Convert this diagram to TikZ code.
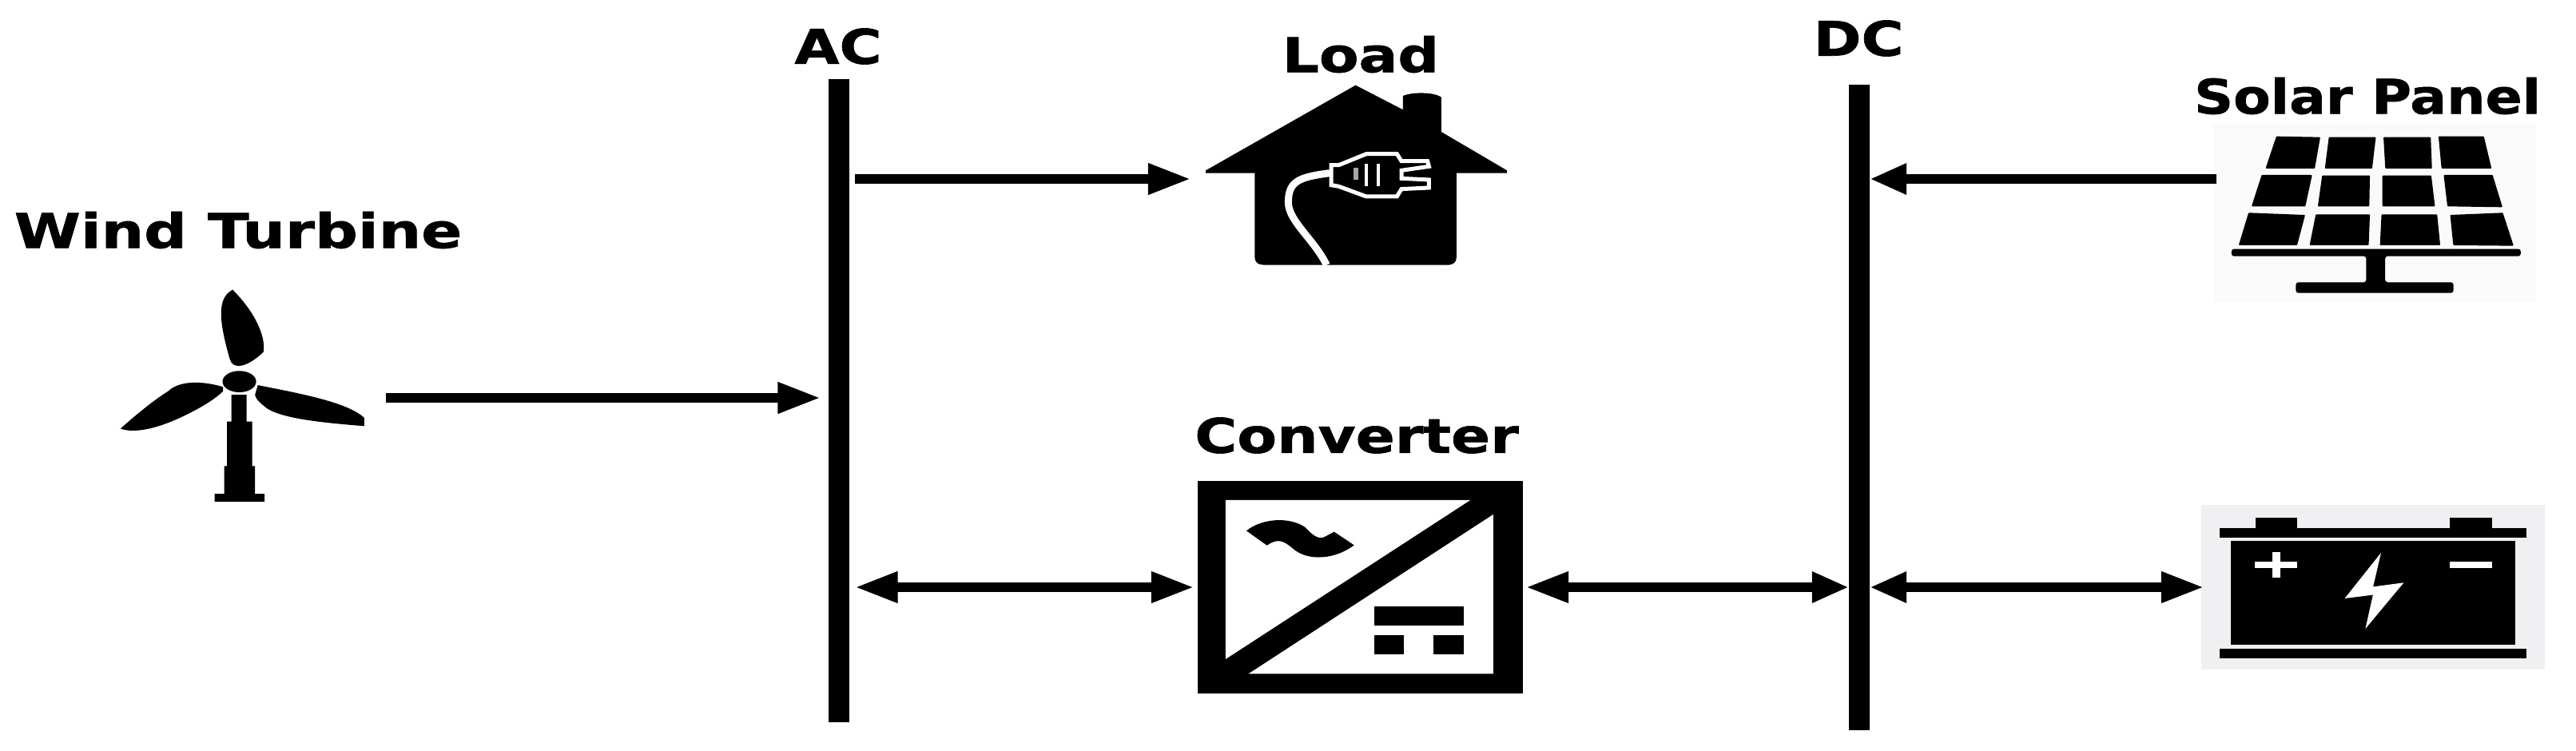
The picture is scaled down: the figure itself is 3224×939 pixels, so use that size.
\documentclass[tikz,border=0pt]{standalone}
\usepackage{fontspec}
\setmainfont{DejaVu Sans}[BoldFeatures={FakeBold=1}]
\usetikzlibrary{
    arrows.meta
}
\tikzset{
    bus/.style={fill=black,inner sep=0pt,outer sep=0pt,minimum width=0.26cm},
    iconbox/.style={inner sep=0pt,outer sep=0pt},
    title/.style={font=\bfseries\fontsize{17}{20}\selectfont,inner sep=0pt,xscale=1.21},
    longtip/.tip={Triangle[length=0.54cm,width=0.36cm]},
    shorttip/.tip={Triangle[length=0.46cm,width=0.36cm]},
    wire/.style={line width=0.125cm}
}
\begin{document}
\begin{tikzpicture}[x=0.01cm,y=-0.01cm]
\useasboundingbox (0,0) rectangle (3224,939);

% Bus bars
\node[bus,minimum height=8.05cm] (acbus) at (1049.5,501.5) {};
\node[bus,minimum height=8.08cm] (dcbus) at (2327,510) {};
\node[title] (aclabel) at (1049,58) {AC};
\node[title] (dclabel) at (2326,48) {DC};

% Boxes for the icons
\node[iconbox,minimum width=3.66cm,minimum height=3cm] (wind) at (300,498) {};
\node[iconbox,minimum width=4.42cm,minimum height=2.3cm] (load) at (1712,224) {};
\node[iconbox,fill=black,minimum width=4.07cm,minimum height=2.66cm] (conv) at (1702.5,735) {};
\node[iconbox,fill=black!2,minimum width=4.04cm,minimum height=2.22cm] (solar) at (2972,267) {};
\node[iconbox,fill=blue!20!black!6,minimum width=4.3cm,minimum height=2.05cm] (batt) at (2970,735) {};

% Labels
\node[title,xscale=1.04] (windlabel) at (298,288) {Wind Turbine};
\node[title] (loadlabel) at (1703,68) {Load};
\node[title] (convlabel) at (1698,545) {Converter};
\node[title,xscale=0.94] (solarlabel) at (2963,120) {Solar Panel};

% Wind turbine
\begin{scope}[shift={(0,240)},xscale=0.7015,yscale=0.4458]
\fill (427,533) circle (30);
\fill (415,275) .. controls (385,300) and (392,370) .. (410,470) .. controls (415,500) and (440,495) .. (470,450) .. controls (475,400) and (450,330) .. (415,275) -- cycle;
\fill (398,548) .. controls (360,530) and (320,530) .. (300,560) .. controls (270,590) and (240,630) .. (215,665) .. controls (240,680) and (285,665) .. (340,620) .. controls (365,600) and (385,580) .. (398,560) -- cycle;
\fill (460,543) .. controls (530,565) and (620,590) .. (650,635) -- (650,658) .. controls (590,650) and (510,640) .. (478,610) .. controls (465,595) and (455,580) .. (455,570) -- cycle;
\fill (413,570) -- (440,570) -- (440,645) -- (450,645) -- (450,770) -- (455,770) -- (455,848) -- (472,848) -- (472,870) -- (383,870) -- (383,848) -- (400,848) -- (400,770) -- (405,770) -- (405,645) -- (413,645) -- cycle;
\end{scope}

% House with plug
\begin{scope}[shift={(1400,0)},xscale=0.3827,yscale=0.3333]
\fill (285,640) -- (775,320) -- (930,412) -- (930,360) .. controls (960,345) and (1030,345) .. (1055,365) -- (1055,495) -- (1270,640) -- (1270,650) -- (1105,650) -- (1105,965) .. controls (1105,985) and (1095,995) .. (1075,995) -- (480,995) .. controls (455,995) and (445,985) .. (445,965) -- (445,650) -- (285,650) -- cycle;
\draw[white,line width=0.09cm] (690,650) .. controls (590,665) and (555,680) .. (555,760) .. controls (555,830) and (640,900) .. (680,995);
\draw[white,fill=black,line width=0.05cm] (695,620) -- (720,620) -- (810,578) -- (910,578) -- (925,605) -- (1010,605) -- (1015,625) -- (925,640) -- (925,670) -- (1015,675) -- (1015,705) -- (925,710) -- (910,738) -- (810,738) -- (720,700) -- (695,695) -- cycle;
\fill[black!35] (768,630) rectangle (785,675);
\draw[white,line width=0.04cm] (810,615) -- (810,700);
\draw[white,line width=0.04cm] (850,615) -- (850,700);
\end{scope}

% Converter
\begin{scope}[shift={(1400,500)},xscale=0.3827,yscale=0.3333]
\fill[white] (350,378) -- (1150,378) -- (350,975) -- cycle;
\fill[white] (1225,432) -- (1225,1030) -- (425,1030) -- cycle;
\fill (418,493) .. controls (470,445) and (560,440) .. (610,480) .. controls (630,505) and (650,525) .. (670,518) -- (705,497) -- (770,547) .. controls (710,600) and (620,610) .. (570,560) .. controls (540,530) and (520,520) .. (485,548) -- cycle;
\fill (836,776) rectangle (1128,848);
\fill (836,885) rectangle (932,958);
\fill (1030,885) rectangle (1128,958);
\end{scope}

% Solar panel
\begin{scope}[shift={(2650,60)},xscale=0.3663,yscale=0.3333]
\foreach \a/\b/\c/\d in {
  {545,335}/{690,338}/{672,450}/{510,450},
  {725,338}/{880,338}/{868,450}/{712,450},
  {912,338}/{1068,338}/{1072,450}/{918,450},
  {1100,335}/{1250,335}/{1275,450}/{1110,450},
  {495,480}/{662,480}/{640,592}/{462,592},
  {702,482}/{860,482}/{858,592}/{688,592},
  {908,482}/{1070,482}/{1082,592}/{908,592},
  {1118,480}/{1280,480}/{1312,595}/{1130,592},
  {450,622}/{638,630}/{612,738}/{418,738},
  {680,628}/{860,628}/{856,738}/{660,738},
  {905,628}/{1090,628}/{1100,738}/{900,738},
  {1140,630}/{1315,622}/{1350,740}/{1150,738}}
{
\filldraw[line width=0.02cm,line join=round] (\a) -- (\b) -- (\c) -- (\d) -- cycle;
}
\fill[rounded corners=0.03cm] (390,755) -- (1378,755) -- (1378,782) -- (915,782) -- (915,880) -- (1148,880) -- (1148,920) -- (610,920) -- (610,880) -- (850,880) -- (850,782) -- (390,782) -- cycle;
\end{scope}

% Battery
\begin{scope}[shift={(2650,600)},xscale=0.3663,yscale=0.3333]
\fill (350,182) rectangle (1398,218);
\fill (472,145) rectangle (615,182);
\fill (1135,145) rectangle (1280,182);
\fill (388,232) rectangle (1360,620);
\fill (350,635) rectangle (1398,672);
\fill[white] (470,310) rectangle (615,332);
\fill[white] (530,272) rectangle (558,370);
\fill[white] (1135,310) rectangle (1280,332);
\filldraw[white,line width=0.01cm] (898,282) -- (780,445) -- (875,432) -- (850,555) -- (975,390) -- (872,405) -- cycle;
\end{scope}

% Connectors
\draw[wire,-longtip,shorten >=0.09cm] (wind.east) -- (wind.east -| acbus.west);
\draw[wire,-longtip,shorten <=0.07cm] (load.west -| acbus.east) -- (load.west);
\draw[wire,longtip-longtip,shorten <=0.07cm,shorten >=0.04cm] (conv.west -| acbus.east) -- (conv.west);
\draw[wire,longtip-shorttip,shorten <=0.03cm] (conv.east) -- (conv.east -| dcbus.west);
\draw[wire,shorttip-longtip,shorten >=-0.04cm] (batt.west -| dcbus.east) -- (batt.west);
\draw[wire,-shorttip,shorten <=-0.04cm] (solar.west |- load.west) -- (load.west -| dcbus.east);

\end{tikzpicture}
\end{document}
